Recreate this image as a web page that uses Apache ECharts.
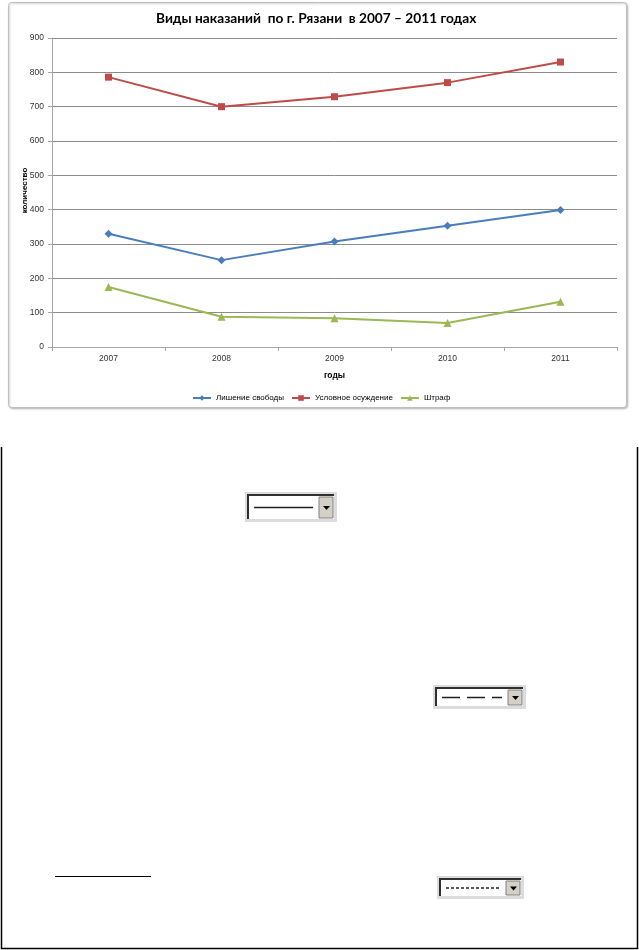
<!DOCTYPE html>
<html>
<head>
<meta charset="utf-8">
<script src="https://cdn.jsdelivr.net/npm/echarts@6/dist/echarts.min.js"></script>
<style>
  body { margin: 0; background: #fff; }
  #main { width: 639px; height: 950px; }
</style>
</head>
<body>
<div id="main"></div>
<script>
var years = ["2007", "2008", "2009", "2010", "2011"];
var lishenie = [330, 253, 307, 353, 399];
var uslovnoe = [786, 700, 729, 770, 830];
var shtraf = [175, 88, 84, 70, 132];
var seriesNames = ["Лишение свободы", "Условное осуждение", "Штраф"];

// draws a little windows-style dropdown with a line sample inside
function dropdown(x, y, w, h, dash) {
  var bw = 14;
  return {
    type: "group",
    x: x,
    y: y,
    children: [
      { type: "rect", shape: { x: 0, y: 0, width: w, height: h }, style: { fill: "#dcdcdc" } },
      { type: "rect", shape: { x: 3, y: 3, width: w - 6, height: h - 6 }, style: { fill: "#fff" } },
      { type: "polyline", shape: { points: [[3, h - 3], [3, 3], [w - 3, 3]] }, style: { stroke: "#303030", lineWidth: 2, fill: null } },
      { type: "rect", shape: { x: w - 4 - bw, y: 5, width: bw, height: h - 9 }, style: { fill: "#d4d0c8", stroke: "#808080", lineWidth: 1 } },
      { type: "polygon", shape: { points: [[w - 4 - bw + 4, h / 2 - 1], [w - 4 - 3, h / 2 - 1], [w - 4 - bw / 2 + 0.5, h / 2 + 3]] }, style: { fill: "#000" } },
      { type: "line", shape: { x1: 9, y1: h / 2 + 0.5, x2: w - bw - 10, y2: h / 2 + 0.5 }, style: { stroke: "#202020", lineWidth: 1.3, lineDash: dash } }
    ]
  };
}

var chartDom = document.getElementById("main");
var myChart = echarts.init(chartDom, null, { renderer: "canvas" });
var option;

option = {
  backgroundColor: "#fff",
  animation: false,
  title: {
    text: "Виды наказаний  по г. Рязани  в 2007 – 2011 годах",
    left: 151,
    top: 7,
    textStyle: { fontFamily: "Lato", fontWeight: "bold", fontSize: 13.7, color: "#000" }
  },
  legend: {
    left: 187,
    top: 389,
    itemWidth: 18,
    itemHeight: 7,
    itemGap: 7,
    textStyle: { fontFamily: "Liberation Sans", fontSize: 8, color: "#000" },
    data: seriesNames
  },
  grid: {
    left: 52,
    top: 38,
    right: 22,
    bottom: 603,
    outerBoundsMode: "none"
  },
  xAxis: {
    type: "category",
    data: years,
    boundaryGap: true,
    name: "годы",
    nameLocation: "middle",
    nameGap: 24,
    nameMoveOverlap: false,
    nameTextStyle: { fontFamily: "Liberation Sans", fontWeight: "bold", fontSize: 8.5, color: "#000" },
    axisLine: { lineStyle: { color: "#a6a6a6" } },
    axisTick: { show: true, length: 4, lineStyle: { color: "#a6a6a6" } },
    axisLabel: { fontFamily: "Liberation Sans", fontSize: 8.5, color: "#333", margin: 7 }
  },
  yAxis: {
    type: "value",
    min: 0,
    max: 900,
    interval: 100,
    name: "количество",
    nameLocation: "middle",
    nameRotate: 90,
    nameGap: 23,
    nameMoveOverlap: false,
    nameTextStyle: { fontFamily: "Liberation Sans", fontWeight: "bold", fontSize: 8, color: "#000", padding: [0, 0, 0, 4] },
    axisLine: { show: true, lineStyle: { color: "#a6a6a6" } },
    axisTick: { show: true, length: 4, lineStyle: { color: "#a6a6a6" } },
    axisLabel: { fontFamily: "Liberation Sans", fontSize: 8.5, color: "#333", margin: 8 },
    splitLine: { lineStyle: { color: "#8c8c8c", width: 1 } }
  },
  series: [
    {
      name: seriesNames[0],
      type: "line",
      data: lishenie,
      symbol: "diamond",
      symbolSize: 8,
      color: "#4A7EBB",
      lineStyle: { width: 2 }
    },
    {
      name: seriesNames[1],
      type: "line",
      data: uslovnoe,
      symbol: "rect",
      symbolSize: 7,
      color: "#BE4B48",
      lineStyle: { width: 2 }
    },
    {
      name: seriesNames[2],
      type: "line",
      data: shtraf,
      symbol: "triangle",
      symbolSize: 8,
      color: "#98B954",
      lineStyle: { width: 2 }
    }
  ],
  graphic: [
    {
      type: "rect",
      z: -10,
      silent: true,
      shape: { x: 8.5, y: 2.5, width: 618, height: 405, r: 3 },
      style: { fill: "#fff", stroke: "#bfbfbf", lineWidth: 1, shadowColor: "rgba(0,0,0,0.25)", shadowBlur: 2, shadowOffsetX: 1, shadowOffsetY: 1 }
    },
    {
      type: "polyline",
      silent: true,
      shape: { points: [[1.5, 447], [1.5, 948.5], [637.5, 948.5], [637.5, 447]] },
      style: { stroke: "#000", lineWidth: 1.5, fill: null }
    },
    dropdown(245, 492, 92, 30, null),
    dropdown(433, 685, 93, 24, [18, 7]),
    dropdown(437, 876, 87, 23, [3, 2]),
    {
      type: "line",
      silent: true,
      shape: { x1: 55, y1: 876.5, x2: 151, y2: 876.5 },
      style: { stroke: "#000", lineWidth: 1 }
    }
  ]
};
option && myChart.setOption(option);
window.addEventListener("resize", function () {
  myChart.resize();
});
</script>
</body>
</html>
